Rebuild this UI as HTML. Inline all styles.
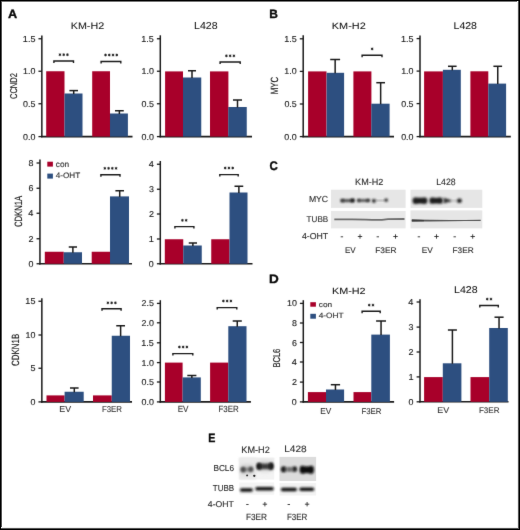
<!DOCTYPE html>
<html><head><meta charset="utf-8"><style>
html,body{margin:0;padding:0;background:#fff;}
body{width:520px;height:530px;overflow:hidden;position:relative;}
svg{position:absolute;left:0;top:0;display:block;font-family:"Liberation Sans", sans-serif;text-rendering:geometricPrecision;}
</style></head><body>
<svg width="520" height="530" viewBox="0 0 520 530">
<defs><filter id="b1" x="-20%" y="-50%" width="140%" height="200%"><feGaussianBlur stdDeviation="0.7"/></filter><filter id="b2" x="-20%" y="-50%" width="140%" height="200%"><feGaussianBlur stdDeviation="0.45"/></filter><filter id="b3" x="-10%" y="-10%" width="120%" height="120%"><feGaussianBlur stdDeviation="1.2"/></filter><filter id="b4" x="-30%" y="-80%" width="160%" height="260%"><feGaussianBlur stdDeviation="0.85"/></filter><filter id="b5" x="-30%" y="-80%" width="160%" height="260%"><feGaussianBlur stdDeviation="1.0"/></filter><filter id="b6" x="-50%" y="-50%" width="200%" height="200%"><feGaussianBlur stdDeviation="2.0"/></filter></defs>
<filter id="gb" filterUnits="userSpaceOnUse" x="0" y="0" width="520" height="530" color-interpolation-filters="sRGB"><feConvolveMatrix order="3" kernelMatrix="0.00524 0.06192 0.00524 0.06192 0.73137 0.06192 0.00524 0.06192 0.00524" edgeMode="duplicate" preserveAlpha="true"/></filter>
<g filter="url(#gb)">
<rect x="0" y="0" width="520" height="530" fill="#fff"/>
<text x="7.97" y="17.90" font-size="12.06" font-weight="bold" fill="#0a0a0a" stroke="#0a0a0a" stroke-width="0.35" textLength="9.16" lengthAdjust="spacingAndGlyphs">A</text>
<text x="269.31" y="17.80" font-size="12.06" font-weight="bold" fill="#0a0a0a" stroke="#0a0a0a" stroke-width="0.35" textLength="8.64" lengthAdjust="spacingAndGlyphs">B</text>
<text x="269.42" y="169.68" font-size="12.43" font-weight="bold" fill="#0a0a0a" stroke="#0a0a0a" stroke-width="0.35" textLength="8.31" lengthAdjust="spacingAndGlyphs">C</text>
<text x="269.11" y="282.70" font-size="12.21" font-weight="bold" fill="#0a0a0a" stroke="#0a0a0a" stroke-width="0.35" textLength="9.76" lengthAdjust="spacingAndGlyphs">D</text>
<text x="208.30" y="441.70" font-size="12.21" font-weight="bold" fill="#0a0a0a" stroke="#0a0a0a" stroke-width="0.35" textLength="7.12" lengthAdjust="spacingAndGlyphs">E</text>
<text x="70.72" y="28.80" font-size="9.60" font-weight="normal" fill="#111" stroke="#111" stroke-width="0.05" textLength="33.41" lengthAdjust="spacingAndGlyphs">KM-H2</text>
<text x="194.03" y="29.20" font-size="10.03" font-weight="normal" fill="#111" stroke="#111" stroke-width="0.05" textLength="23.54" lengthAdjust="spacingAndGlyphs">L428</text>
<text x="331.81" y="29.00" font-size="9.17" font-weight="normal" fill="#111" stroke="#111" stroke-width="0.05" textLength="33.93" lengthAdjust="spacingAndGlyphs">KM-H2</text>
<text x="453.54" y="29.40" font-size="9.89" font-weight="normal" fill="#111" stroke="#111" stroke-width="0.05" textLength="23.43" lengthAdjust="spacingAndGlyphs">L428</text>
<text x="331.91" y="293.70" font-size="9.03" font-weight="normal" fill="#111" stroke="#111" stroke-width="0.05" textLength="33.72" lengthAdjust="spacingAndGlyphs">KM-H2</text>
<text x="454.03" y="292.90" font-size="9.89" font-weight="normal" fill="#111" stroke="#111" stroke-width="0.05" textLength="23.54" lengthAdjust="spacingAndGlyphs">L428</text>
<text transform="translate(16.50,99.08) rotate(-90)" x="0" y="0" font-size="9.89" fill="#161616" stroke="#161616" stroke-width="0.15" textLength="26.06" lengthAdjust="spacingAndGlyphs">CCND2</text>
<text transform="translate(22.39,227.09) rotate(-90)" x="0" y="0" font-size="10.59" fill="#161616" stroke="#161616" stroke-width="0.15" textLength="31.31" lengthAdjust="spacingAndGlyphs">CDKN1A</text>
<text transform="translate(19.30,365.90) rotate(-90)" x="0" y="0" font-size="10.45" fill="#161616" stroke="#161616" stroke-width="0.15" textLength="32.11" lengthAdjust="spacingAndGlyphs">CDKN1B</text>
<text transform="translate(278.10,94.34) rotate(-90)" x="0" y="0" font-size="10.45" fill="#161616" stroke="#161616" stroke-width="0.15" textLength="17.44" lengthAdjust="spacingAndGlyphs">MYC</text>
<text transform="translate(279.60,367.62) rotate(-90)" x="0" y="0" font-size="10.03" fill="#161616" stroke="#161616" stroke-width="0.15" textLength="18.95" lengthAdjust="spacingAndGlyphs">BCL6</text>
<line x1="41.85" y1="35.50" x2="41.85" y2="137.35" stroke="#1a1a1a" stroke-width="1.5"/>
<line x1="41.10" y1="136.60" x2="132.50" y2="136.60" stroke="#1a1a1a" stroke-width="1.6"/>
<line x1="38.45" y1="136.60" x2="41.85" y2="136.60" stroke="#1a1a1a" stroke-width="1.3"/>
<text x="23.02" y="139.62" font-size="8.47" font-weight="normal" fill="#202020" stroke="#202020" stroke-width="0.12" textLength="12.37" lengthAdjust="spacingAndGlyphs">0.0</text>
<line x1="38.45" y1="103.75" x2="41.85" y2="103.75" stroke="#1a1a1a" stroke-width="1.3"/>
<text x="23.06" y="106.77" font-size="8.47" font-weight="normal" fill="#202020" stroke="#202020" stroke-width="0.12" textLength="12.37" lengthAdjust="spacingAndGlyphs">0.5</text>
<line x1="38.45" y1="71.25" x2="41.85" y2="71.25" stroke="#1a1a1a" stroke-width="1.3"/>
<text x="23.02" y="74.27" font-size="8.47" font-weight="normal" fill="#202020" stroke="#202020" stroke-width="0.12" textLength="12.37" lengthAdjust="spacingAndGlyphs">1.0</text>
<line x1="38.45" y1="38.75" x2="41.85" y2="38.75" stroke="#1a1a1a" stroke-width="1.3"/>
<text x="22.88" y="41.76" font-size="8.60" font-weight="normal" fill="#202020" stroke="#202020" stroke-width="0.12" textLength="12.55" lengthAdjust="spacingAndGlyphs">1.5</text>
<rect x="46.20" y="71.25" width="18.30" height="65.35" fill="#a8002a"/>
<rect x="64.50" y="93.50" width="18.00" height="43.10" fill="#2d4f80"/>
<line x1="73.70" y1="90.60" x2="73.70" y2="94.00" stroke="#1a1a1a" stroke-width="1.5"/>
<line x1="69.40" y1="90.60" x2="78.00" y2="90.60" stroke="#1a1a1a" stroke-width="1.5"/>
<rect x="92.20" y="71.25" width="17.80" height="65.35" fill="#a8002a"/>
<rect x="110.00" y="113.50" width="17.90" height="23.10" fill="#2d4f80"/>
<line x1="119.38" y1="110.75" x2="119.38" y2="114.00" stroke="#1a1a1a" stroke-width="1.5"/>
<line x1="115.00" y1="110.75" x2="123.75" y2="110.75" stroke="#1a1a1a" stroke-width="1.5"/>
<path d="M53.90,63.00 L53.90,61.00 L73.50,61.00 L73.50,63.00" fill="none" stroke="#1a1a1a" stroke-width="1.4"/>
<circle cx="59.95" cy="54.70" r="0.9" fill="#222"/>
<path d="M59.95,53.25 L59.95,56.15 M58.70,53.98 L61.20,55.42 M58.70,55.42 L61.20,53.98" stroke="#222" stroke-width="0.7"/>
<circle cx="63.70" cy="54.70" r="0.9" fill="#222"/>
<path d="M63.70,53.25 L63.70,56.15 M62.45,53.98 L64.95,55.42 M62.45,55.42 L64.95,53.98" stroke="#222" stroke-width="0.7"/>
<circle cx="67.45" cy="54.70" r="0.9" fill="#222"/>
<path d="M67.45,53.25 L67.45,56.15 M66.20,53.98 L68.70,55.42 M66.20,55.42 L68.70,53.98" stroke="#222" stroke-width="0.7"/>
<path d="M101.10,63.50 L101.10,61.50 L120.80,61.50 L120.80,63.50" fill="none" stroke="#1a1a1a" stroke-width="1.4"/>
<circle cx="105.53" cy="55.00" r="0.9" fill="#222"/>
<path d="M105.53,53.55 L105.53,56.45 M104.28,54.28 L106.78,55.72 M104.28,55.72 L106.78,54.28" stroke="#222" stroke-width="0.7"/>
<circle cx="109.28" cy="55.00" r="0.9" fill="#222"/>
<path d="M109.28,53.55 L109.28,56.45 M108.03,54.28 L110.53,55.72 M108.03,55.72 L110.53,54.28" stroke="#222" stroke-width="0.7"/>
<circle cx="113.03" cy="55.00" r="0.9" fill="#222"/>
<path d="M113.03,53.55 L113.03,56.45 M111.78,54.28 L114.28,55.72 M111.78,55.72 L114.28,54.28" stroke="#222" stroke-width="0.7"/>
<circle cx="116.78" cy="55.00" r="0.9" fill="#222"/>
<path d="M116.78,53.55 L116.78,56.45 M115.53,54.28 L118.03,55.72 M115.53,55.72 L118.03,54.28" stroke="#222" stroke-width="0.7"/>
<line x1="160.30" y1="35.30" x2="160.30" y2="137.35" stroke="#1a1a1a" stroke-width="1.5"/>
<line x1="159.55" y1="136.60" x2="252.00" y2="136.60" stroke="#1a1a1a" stroke-width="1.6"/>
<line x1="156.90" y1="136.60" x2="160.30" y2="136.60" stroke="#1a1a1a" stroke-width="1.3"/>
<text x="141.47" y="139.62" font-size="8.47" font-weight="normal" fill="#202020" stroke="#202020" stroke-width="0.12" textLength="12.37" lengthAdjust="spacingAndGlyphs">0.0</text>
<line x1="156.90" y1="103.75" x2="160.30" y2="103.75" stroke="#1a1a1a" stroke-width="1.3"/>
<text x="141.51" y="106.77" font-size="8.47" font-weight="normal" fill="#202020" stroke="#202020" stroke-width="0.12" textLength="12.37" lengthAdjust="spacingAndGlyphs">0.5</text>
<line x1="156.90" y1="71.25" x2="160.30" y2="71.25" stroke="#1a1a1a" stroke-width="1.3"/>
<text x="141.47" y="74.27" font-size="8.47" font-weight="normal" fill="#202020" stroke="#202020" stroke-width="0.12" textLength="12.37" lengthAdjust="spacingAndGlyphs">1.0</text>
<line x1="156.90" y1="38.75" x2="160.30" y2="38.75" stroke="#1a1a1a" stroke-width="1.3"/>
<text x="141.33" y="41.76" font-size="8.60" font-weight="normal" fill="#202020" stroke="#202020" stroke-width="0.12" textLength="12.55" lengthAdjust="spacingAndGlyphs">1.5</text>
<rect x="165.10" y="71.40" width="17.90" height="65.20" fill="#a8002a"/>
<rect x="183.00" y="77.50" width="18.25" height="59.10" fill="#2d4f80"/>
<line x1="192.00" y1="70.75" x2="192.00" y2="78.00" stroke="#1a1a1a" stroke-width="1.5"/>
<line x1="188.00" y1="70.75" x2="196.00" y2="70.75" stroke="#1a1a1a" stroke-width="1.5"/>
<rect x="210.00" y="71.40" width="18.40" height="65.20" fill="#a8002a"/>
<rect x="228.25" y="107.00" width="18.50" height="29.60" fill="#2d4f80"/>
<line x1="237.50" y1="100.00" x2="237.50" y2="107.50" stroke="#1a1a1a" stroke-width="1.5"/>
<line x1="233.00" y1="100.00" x2="242.00" y2="100.00" stroke="#1a1a1a" stroke-width="1.5"/>
<path d="M220.10,64.00 L220.10,62.00 L240.20,62.00 L240.20,64.00" fill="none" stroke="#1a1a1a" stroke-width="1.4"/>
<circle cx="226.40" cy="55.80" r="0.9" fill="#222"/>
<path d="M226.40,54.35 L226.40,57.25 M225.15,55.08 L227.65,56.52 M225.15,56.52 L227.65,55.08" stroke="#222" stroke-width="0.7"/>
<circle cx="230.15" cy="55.80" r="0.9" fill="#222"/>
<path d="M230.15,54.35 L230.15,57.25 M228.90,55.08 L231.40,56.52 M228.90,56.52 L231.40,55.08" stroke="#222" stroke-width="0.7"/>
<circle cx="233.90" cy="55.80" r="0.9" fill="#222"/>
<path d="M233.90,54.35 L233.90,57.25 M232.65,55.08 L235.15,56.52 M232.65,56.52 L235.15,55.08" stroke="#222" stroke-width="0.7"/>
<line x1="303.20" y1="35.20" x2="303.20" y2="137.35" stroke="#1a1a1a" stroke-width="1.5"/>
<line x1="302.45" y1="136.60" x2="394.00" y2="136.60" stroke="#1a1a1a" stroke-width="1.6"/>
<line x1="299.80" y1="136.60" x2="303.20" y2="136.60" stroke="#1a1a1a" stroke-width="1.3"/>
<text x="284.37" y="139.62" font-size="8.47" font-weight="normal" fill="#202020" stroke="#202020" stroke-width="0.12" textLength="12.37" lengthAdjust="spacingAndGlyphs">0.0</text>
<line x1="299.80" y1="104.00" x2="303.20" y2="104.00" stroke="#1a1a1a" stroke-width="1.3"/>
<text x="284.41" y="107.02" font-size="8.47" font-weight="normal" fill="#202020" stroke="#202020" stroke-width="0.12" textLength="12.37" lengthAdjust="spacingAndGlyphs">0.5</text>
<line x1="299.80" y1="71.40" x2="303.20" y2="71.40" stroke="#1a1a1a" stroke-width="1.3"/>
<text x="284.37" y="74.42" font-size="8.47" font-weight="normal" fill="#202020" stroke="#202020" stroke-width="0.12" textLength="12.37" lengthAdjust="spacingAndGlyphs">1.0</text>
<line x1="299.80" y1="38.80" x2="303.20" y2="38.80" stroke="#1a1a1a" stroke-width="1.3"/>
<text x="284.23" y="41.81" font-size="8.60" font-weight="normal" fill="#202020" stroke="#202020" stroke-width="0.12" textLength="12.55" lengthAdjust="spacingAndGlyphs">1.5</text>
<rect x="308.10" y="71.40" width="18.40" height="65.20" fill="#a8002a"/>
<rect x="326.60" y="72.80" width="17.50" height="63.80" fill="#2d4f80"/>
<line x1="335.15" y1="59.50" x2="335.15" y2="73.30" stroke="#1a1a1a" stroke-width="1.5"/>
<line x1="330.20" y1="59.50" x2="340.10" y2="59.50" stroke="#1a1a1a" stroke-width="1.5"/>
<rect x="353.40" y="71.40" width="18.00" height="65.20" fill="#a8002a"/>
<rect x="371.30" y="103.70" width="18.30" height="32.90" fill="#2d4f80"/>
<line x1="380.65" y1="82.70" x2="380.65" y2="104.20" stroke="#1a1a1a" stroke-width="1.5"/>
<line x1="376.30" y1="82.70" x2="385.00" y2="82.70" stroke="#1a1a1a" stroke-width="1.5"/>
<path d="M362.10,57.30 L362.10,55.30 L382.00,55.30 L382.00,57.30" fill="none" stroke="#1a1a1a" stroke-width="1.4"/>
<circle cx="372.15" cy="48.90" r="0.9" fill="#222"/>
<path d="M372.15,47.45 L372.15,50.35 M370.90,48.18 L373.40,49.62 M370.90,49.62 L373.40,48.18" stroke="#222" stroke-width="0.7"/>
<line x1="420.00" y1="35.50" x2="420.00" y2="137.35" stroke="#1a1a1a" stroke-width="1.5"/>
<line x1="419.25" y1="136.60" x2="510.80" y2="136.60" stroke="#1a1a1a" stroke-width="1.6"/>
<line x1="416.60" y1="136.60" x2="420.00" y2="136.60" stroke="#1a1a1a" stroke-width="1.3"/>
<text x="401.17" y="139.62" font-size="8.47" font-weight="normal" fill="#202020" stroke="#202020" stroke-width="0.12" textLength="12.37" lengthAdjust="spacingAndGlyphs">0.0</text>
<line x1="416.60" y1="103.60" x2="420.00" y2="103.60" stroke="#1a1a1a" stroke-width="1.3"/>
<text x="401.21" y="106.62" font-size="8.47" font-weight="normal" fill="#202020" stroke="#202020" stroke-width="0.12" textLength="12.37" lengthAdjust="spacingAndGlyphs">0.5</text>
<line x1="416.60" y1="71.10" x2="420.00" y2="71.10" stroke="#1a1a1a" stroke-width="1.3"/>
<text x="401.17" y="74.12" font-size="8.47" font-weight="normal" fill="#202020" stroke="#202020" stroke-width="0.12" textLength="12.37" lengthAdjust="spacingAndGlyphs">1.0</text>
<line x1="416.60" y1="38.60" x2="420.00" y2="38.60" stroke="#1a1a1a" stroke-width="1.3"/>
<text x="401.03" y="41.61" font-size="8.60" font-weight="normal" fill="#202020" stroke="#202020" stroke-width="0.12" textLength="12.55" lengthAdjust="spacingAndGlyphs">1.5</text>
<rect x="424.10" y="71.40" width="18.80" height="65.20" fill="#a8002a"/>
<rect x="442.90" y="69.80" width="17.90" height="66.80" fill="#2d4f80"/>
<line x1="452.30" y1="66.30" x2="452.30" y2="70.30" stroke="#1a1a1a" stroke-width="1.5"/>
<line x1="448.00" y1="66.30" x2="456.60" y2="66.30" stroke="#1a1a1a" stroke-width="1.5"/>
<rect x="470.40" y="71.30" width="17.90" height="65.30" fill="#a8002a"/>
<rect x="488.30" y="83.60" width="17.80" height="53.00" fill="#2d4f80"/>
<line x1="497.75" y1="66.30" x2="497.75" y2="84.10" stroke="#1a1a1a" stroke-width="1.5"/>
<line x1="493.40" y1="66.30" x2="502.10" y2="66.30" stroke="#1a1a1a" stroke-width="1.5"/>
<line x1="39.95" y1="159.60" x2="39.95" y2="264.50" stroke="#1a1a1a" stroke-width="1.5"/>
<line x1="39.20" y1="263.75" x2="132.00" y2="263.75" stroke="#1a1a1a" stroke-width="1.6"/>
<line x1="36.55" y1="263.75" x2="39.95" y2="263.75" stroke="#1a1a1a" stroke-width="1.3"/>
<text x="28.54" y="266.77" font-size="8.47" font-weight="normal" fill="#202020" stroke="#202020" stroke-width="0.12" textLength="4.95" lengthAdjust="spacingAndGlyphs">0</text>
<line x1="36.55" y1="238.75" x2="39.95" y2="238.75" stroke="#1a1a1a" stroke-width="1.3"/>
<text x="28.58" y="241.85" font-size="8.60" font-weight="normal" fill="#202020" stroke="#202020" stroke-width="0.12" textLength="5.02" lengthAdjust="spacingAndGlyphs">2</text>
<line x1="36.55" y1="213.25" x2="39.95" y2="213.25" stroke="#1a1a1a" stroke-width="1.3"/>
<text x="28.33" y="216.35" font-size="8.72" font-weight="normal" fill="#202020" stroke="#202020" stroke-width="0.12" textLength="5.09" lengthAdjust="spacingAndGlyphs">4</text>
<line x1="36.55" y1="188.25" x2="39.95" y2="188.25" stroke="#1a1a1a" stroke-width="1.3"/>
<text x="28.59" y="191.27" font-size="8.47" font-weight="normal" fill="#202020" stroke="#202020" stroke-width="0.12" textLength="4.95" lengthAdjust="spacingAndGlyphs">6</text>
<line x1="36.55" y1="163.00" x2="39.95" y2="163.00" stroke="#1a1a1a" stroke-width="1.3"/>
<text x="28.59" y="166.02" font-size="8.47" font-weight="normal" fill="#202020" stroke="#202020" stroke-width="0.12" textLength="4.95" lengthAdjust="spacingAndGlyphs">8</text>
<rect x="44.80" y="251.75" width="18.95" height="12.00" fill="#a8002a"/>
<rect x="63.75" y="252.25" width="18.25" height="11.50" fill="#2d4f80"/>
<line x1="72.88" y1="247.00" x2="72.88" y2="252.75" stroke="#1a1a1a" stroke-width="1.5"/>
<line x1="68.75" y1="247.00" x2="77.00" y2="247.00" stroke="#1a1a1a" stroke-width="1.5"/>
<rect x="91.70" y="251.75" width="18.30" height="12.00" fill="#a8002a"/>
<rect x="110.00" y="196.40" width="19.00" height="67.35" fill="#2d4f80"/>
<line x1="119.70" y1="190.75" x2="119.70" y2="196.90" stroke="#1a1a1a" stroke-width="1.5"/>
<line x1="115.40" y1="190.75" x2="124.00" y2="190.75" stroke="#1a1a1a" stroke-width="1.5"/>
<path d="M100.90,176.70 L100.90,174.70 L120.00,174.70 L120.00,176.70" fill="none" stroke="#1a1a1a" stroke-width="1.4"/>
<circle cx="104.83" cy="168.30" r="0.9" fill="#222"/>
<path d="M104.83,166.85 L104.83,169.75 M103.58,167.58 L106.08,169.02 M103.58,169.02 L106.08,167.58" stroke="#222" stroke-width="0.7"/>
<circle cx="108.58" cy="168.30" r="0.9" fill="#222"/>
<path d="M108.58,166.85 L108.58,169.75 M107.33,167.58 L109.83,169.02 M107.33,169.02 L109.83,167.58" stroke="#222" stroke-width="0.7"/>
<circle cx="112.33" cy="168.30" r="0.9" fill="#222"/>
<path d="M112.33,166.85 L112.33,169.75 M111.08,167.58 L113.58,169.02 M111.08,169.02 L113.58,167.58" stroke="#222" stroke-width="0.7"/>
<circle cx="116.08" cy="168.30" r="0.9" fill="#222"/>
<path d="M116.08,166.85 L116.08,169.75 M114.83,167.58 L117.33,169.02 M114.83,169.02 L117.33,167.58" stroke="#222" stroke-width="0.7"/>
<line x1="160.30" y1="161.00" x2="160.30" y2="264.50" stroke="#1a1a1a" stroke-width="1.5"/>
<line x1="159.55" y1="263.75" x2="252.50" y2="263.75" stroke="#1a1a1a" stroke-width="1.6"/>
<line x1="156.90" y1="263.75" x2="160.30" y2="263.75" stroke="#1a1a1a" stroke-width="1.3"/>
<text x="148.89" y="266.77" font-size="8.47" font-weight="normal" fill="#202020" stroke="#202020" stroke-width="0.12" textLength="4.95" lengthAdjust="spacingAndGlyphs">0</text>
<line x1="156.90" y1="239.00" x2="160.30" y2="239.00" stroke="#1a1a1a" stroke-width="1.3"/>
<text x="148.85" y="242.10" font-size="8.72" font-weight="normal" fill="#202020" stroke="#202020" stroke-width="0.12" textLength="5.09" lengthAdjust="spacingAndGlyphs">1</text>
<line x1="156.90" y1="214.00" x2="160.30" y2="214.00" stroke="#1a1a1a" stroke-width="1.3"/>
<text x="148.93" y="217.10" font-size="8.60" font-weight="normal" fill="#202020" stroke="#202020" stroke-width="0.12" textLength="5.02" lengthAdjust="spacingAndGlyphs">2</text>
<line x1="156.90" y1="189.25" x2="160.30" y2="189.25" stroke="#1a1a1a" stroke-width="1.3"/>
<text x="148.94" y="192.27" font-size="8.47" font-weight="normal" fill="#202020" stroke="#202020" stroke-width="0.12" textLength="4.95" lengthAdjust="spacingAndGlyphs">3</text>
<line x1="156.90" y1="164.25" x2="160.30" y2="164.25" stroke="#1a1a1a" stroke-width="1.3"/>
<text x="148.68" y="167.35" font-size="8.72" font-weight="normal" fill="#202020" stroke="#202020" stroke-width="0.12" textLength="5.09" lengthAdjust="spacingAndGlyphs">4</text>
<rect x="164.80" y="239.25" width="18.45" height="24.50" fill="#a8002a"/>
<rect x="183.25" y="245.50" width="18.50" height="18.25" fill="#2d4f80"/>
<line x1="192.88" y1="243.00" x2="192.88" y2="246.00" stroke="#1a1a1a" stroke-width="1.5"/>
<line x1="188.75" y1="243.00" x2="197.00" y2="243.00" stroke="#1a1a1a" stroke-width="1.5"/>
<rect x="211.25" y="239.25" width="18.25" height="24.50" fill="#a8002a"/>
<rect x="229.50" y="192.50" width="18.00" height="71.25" fill="#2d4f80"/>
<line x1="238.88" y1="186.25" x2="238.88" y2="193.00" stroke="#1a1a1a" stroke-width="1.5"/>
<line x1="234.50" y1="186.25" x2="243.25" y2="186.25" stroke="#1a1a1a" stroke-width="1.5"/>
<path d="M174.90,228.60 L174.90,226.60 L193.90,226.60 L193.90,228.60" fill="none" stroke="#1a1a1a" stroke-width="1.4"/>
<circle cx="182.43" cy="220.30" r="0.9" fill="#222"/>
<path d="M182.43,218.85 L182.43,221.75 M181.18,219.58 L183.68,221.02 M181.18,221.02 L183.68,219.58" stroke="#222" stroke-width="0.7"/>
<circle cx="186.18" cy="220.30" r="0.9" fill="#222"/>
<path d="M186.18,218.85 L186.18,221.75 M184.93,219.58 L187.43,221.02 M184.93,221.02 L187.43,219.58" stroke="#222" stroke-width="0.7"/>
<path d="M219.80,176.60 L219.80,174.60 L238.20,174.60 L238.20,176.60" fill="none" stroke="#1a1a1a" stroke-width="1.4"/>
<circle cx="225.20" cy="168.00" r="0.9" fill="#222"/>
<path d="M225.20,166.55 L225.20,169.45 M223.95,167.28 L226.45,168.72 M223.95,168.72 L226.45,167.28" stroke="#222" stroke-width="0.7"/>
<circle cx="228.95" cy="168.00" r="0.9" fill="#222"/>
<path d="M228.95,166.55 L228.95,169.45 M227.70,167.28 L230.20,168.72 M227.70,168.72 L230.20,167.28" stroke="#222" stroke-width="0.7"/>
<circle cx="232.70" cy="168.00" r="0.9" fill="#222"/>
<path d="M232.70,166.55 L232.70,169.45 M231.45,167.28 L233.95,168.72 M231.45,168.72 L233.95,167.28" stroke="#222" stroke-width="0.7"/>
<line x1="41.85" y1="298.20" x2="41.85" y2="402.65" stroke="#1a1a1a" stroke-width="1.5"/>
<line x1="41.10" y1="401.90" x2="132.00" y2="401.90" stroke="#1a1a1a" stroke-width="1.6"/>
<line x1="38.45" y1="401.90" x2="41.85" y2="401.90" stroke="#1a1a1a" stroke-width="1.3"/>
<text x="30.44" y="404.92" font-size="8.47" font-weight="normal" fill="#202020" stroke="#202020" stroke-width="0.12" textLength="4.95" lengthAdjust="spacingAndGlyphs">0</text>
<line x1="38.45" y1="368.25" x2="41.85" y2="368.25" stroke="#1a1a1a" stroke-width="1.3"/>
<text x="30.41" y="371.26" font-size="8.60" font-weight="normal" fill="#202020" stroke="#202020" stroke-width="0.12" textLength="5.02" lengthAdjust="spacingAndGlyphs">5</text>
<line x1="38.45" y1="335.00" x2="41.85" y2="335.00" stroke="#1a1a1a" stroke-width="1.3"/>
<text x="25.49" y="338.02" font-size="8.47" font-weight="normal" fill="#202020" stroke="#202020" stroke-width="0.12" textLength="9.90" lengthAdjust="spacingAndGlyphs">10</text>
<line x1="38.45" y1="301.25" x2="41.85" y2="301.25" stroke="#1a1a1a" stroke-width="1.3"/>
<text x="25.39" y="304.26" font-size="8.60" font-weight="normal" fill="#202020" stroke="#202020" stroke-width="0.12" textLength="10.04" lengthAdjust="spacingAndGlyphs">15</text>
<rect x="46.50" y="395.40" width="18.10" height="6.50" fill="#a8002a"/>
<rect x="64.60" y="391.75" width="19.10" height="10.15" fill="#2d4f80"/>
<line x1="74.30" y1="388.00" x2="74.30" y2="392.25" stroke="#1a1a1a" stroke-width="1.5"/>
<line x1="70.00" y1="388.00" x2="78.60" y2="388.00" stroke="#1a1a1a" stroke-width="1.5"/>
<rect x="93.00" y="395.40" width="18.75" height="6.50" fill="#a8002a"/>
<rect x="111.75" y="335.75" width="18.25" height="66.15" fill="#2d4f80"/>
<line x1="120.62" y1="325.75" x2="120.62" y2="336.25" stroke="#1a1a1a" stroke-width="1.5"/>
<line x1="116.25" y1="325.75" x2="125.00" y2="325.75" stroke="#1a1a1a" stroke-width="1.5"/>
<path d="M102.00,310.80 L102.00,308.80 L121.10,308.80 L121.10,310.80" fill="none" stroke="#1a1a1a" stroke-width="1.4"/>
<circle cx="107.90" cy="302.80" r="0.9" fill="#222"/>
<path d="M107.90,301.35 L107.90,304.25 M106.65,302.08 L109.15,303.52 M106.65,303.52 L109.15,302.08" stroke="#222" stroke-width="0.7"/>
<circle cx="111.65" cy="302.80" r="0.9" fill="#222"/>
<path d="M111.65,301.35 L111.65,304.25 M110.40,302.08 L112.90,303.52 M110.40,303.52 L112.90,302.08" stroke="#222" stroke-width="0.7"/>
<circle cx="115.40" cy="302.80" r="0.9" fill="#222"/>
<path d="M115.40,301.35 L115.40,304.25 M114.15,302.08 L116.65,303.52 M114.15,303.52 L116.65,302.08" stroke="#222" stroke-width="0.7"/>
<line x1="160.30" y1="300.20" x2="160.30" y2="402.65" stroke="#1a1a1a" stroke-width="1.5"/>
<line x1="159.55" y1="401.90" x2="250.90" y2="401.90" stroke="#1a1a1a" stroke-width="1.6"/>
<line x1="156.90" y1="401.90" x2="160.30" y2="401.90" stroke="#1a1a1a" stroke-width="1.3"/>
<text x="141.47" y="404.92" font-size="8.47" font-weight="normal" fill="#202020" stroke="#202020" stroke-width="0.12" textLength="12.37" lengthAdjust="spacingAndGlyphs">0.0</text>
<line x1="156.90" y1="382.00" x2="160.30" y2="382.00" stroke="#1a1a1a" stroke-width="1.3"/>
<text x="141.51" y="385.02" font-size="8.47" font-weight="normal" fill="#202020" stroke="#202020" stroke-width="0.12" textLength="12.37" lengthAdjust="spacingAndGlyphs">0.5</text>
<line x1="156.90" y1="362.60" x2="160.30" y2="362.60" stroke="#1a1a1a" stroke-width="1.3"/>
<text x="141.47" y="365.62" font-size="8.47" font-weight="normal" fill="#202020" stroke="#202020" stroke-width="0.12" textLength="12.37" lengthAdjust="spacingAndGlyphs">1.0</text>
<line x1="156.90" y1="342.80" x2="160.30" y2="342.80" stroke="#1a1a1a" stroke-width="1.3"/>
<text x="141.33" y="345.81" font-size="8.60" font-weight="normal" fill="#202020" stroke="#202020" stroke-width="0.12" textLength="12.55" lengthAdjust="spacingAndGlyphs">1.5</text>
<line x1="156.90" y1="322.80" x2="160.30" y2="322.80" stroke="#1a1a1a" stroke-width="1.3"/>
<text x="141.47" y="325.82" font-size="8.47" font-weight="normal" fill="#202020" stroke="#202020" stroke-width="0.12" textLength="12.37" lengthAdjust="spacingAndGlyphs">2.0</text>
<line x1="156.90" y1="303.40" x2="160.30" y2="303.40" stroke="#1a1a1a" stroke-width="1.3"/>
<text x="141.51" y="306.42" font-size="8.47" font-weight="normal" fill="#202020" stroke="#202020" stroke-width="0.12" textLength="12.37" lengthAdjust="spacingAndGlyphs">2.5</text>
<rect x="164.90" y="362.60" width="17.70" height="39.30" fill="#a8002a"/>
<rect x="182.60" y="377.40" width="18.20" height="24.50" fill="#2d4f80"/>
<line x1="191.85" y1="375.50" x2="191.85" y2="377.90" stroke="#1a1a1a" stroke-width="1.5"/>
<line x1="187.30" y1="375.50" x2="196.40" y2="375.50" stroke="#1a1a1a" stroke-width="1.5"/>
<rect x="210.10" y="362.60" width="18.20" height="39.30" fill="#a8002a"/>
<rect x="228.30" y="326.20" width="18.20" height="75.70" fill="#2d4f80"/>
<line x1="237.25" y1="321.00" x2="237.25" y2="326.70" stroke="#1a1a1a" stroke-width="1.5"/>
<line x1="232.70" y1="321.00" x2="241.80" y2="321.00" stroke="#1a1a1a" stroke-width="1.5"/>
<path d="M172.90,355.60 L172.90,353.60 L192.80,353.60 L192.80,355.60" fill="none" stroke="#1a1a1a" stroke-width="1.4"/>
<circle cx="179.40" cy="347.00" r="0.9" fill="#222"/>
<path d="M179.40,345.55 L179.40,348.45 M178.15,346.28 L180.65,347.72 M178.15,347.72 L180.65,346.28" stroke="#222" stroke-width="0.7"/>
<circle cx="183.15" cy="347.00" r="0.9" fill="#222"/>
<path d="M183.15,345.55 L183.15,348.45 M181.90,346.28 L184.40,347.72 M181.90,347.72 L184.40,346.28" stroke="#222" stroke-width="0.7"/>
<circle cx="186.90" cy="347.00" r="0.9" fill="#222"/>
<path d="M186.90,345.55 L186.90,348.45 M185.65,346.28 L188.15,347.72 M185.65,347.72 L188.15,346.28" stroke="#222" stroke-width="0.7"/>
<path d="M217.20,309.60 L217.20,307.60 L236.80,307.60 L236.80,309.60" fill="none" stroke="#1a1a1a" stroke-width="1.4"/>
<circle cx="223.40" cy="301.00" r="0.9" fill="#222"/>
<path d="M223.40,299.55 L223.40,302.45 M222.15,300.28 L224.65,301.72 M222.15,301.72 L224.65,300.28" stroke="#222" stroke-width="0.7"/>
<circle cx="227.15" cy="301.00" r="0.9" fill="#222"/>
<path d="M227.15,299.55 L227.15,302.45 M225.90,300.28 L228.40,301.72 M225.90,301.72 L228.40,300.28" stroke="#222" stroke-width="0.7"/>
<circle cx="230.90" cy="301.00" r="0.9" fill="#222"/>
<path d="M230.90,299.55 L230.90,302.45 M229.65,300.28 L232.15,301.72 M229.65,301.72 L232.15,300.28" stroke="#222" stroke-width="0.7"/>
<line x1="303.30" y1="300.20" x2="303.30" y2="402.65" stroke="#1a1a1a" stroke-width="1.5"/>
<line x1="302.55" y1="401.90" x2="394.10" y2="401.90" stroke="#1a1a1a" stroke-width="1.6"/>
<line x1="299.90" y1="401.90" x2="303.30" y2="401.90" stroke="#1a1a1a" stroke-width="1.3"/>
<text x="291.89" y="404.92" font-size="8.47" font-weight="normal" fill="#202020" stroke="#202020" stroke-width="0.12" textLength="4.95" lengthAdjust="spacingAndGlyphs">0</text>
<line x1="299.90" y1="382.10" x2="303.30" y2="382.10" stroke="#1a1a1a" stroke-width="1.3"/>
<text x="291.93" y="385.20" font-size="8.60" font-weight="normal" fill="#202020" stroke="#202020" stroke-width="0.12" textLength="5.02" lengthAdjust="spacingAndGlyphs">2</text>
<line x1="299.90" y1="362.00" x2="303.30" y2="362.00" stroke="#1a1a1a" stroke-width="1.3"/>
<text x="291.68" y="365.10" font-size="8.72" font-weight="normal" fill="#202020" stroke="#202020" stroke-width="0.12" textLength="5.09" lengthAdjust="spacingAndGlyphs">4</text>
<line x1="299.90" y1="342.50" x2="303.30" y2="342.50" stroke="#1a1a1a" stroke-width="1.3"/>
<text x="291.94" y="345.52" font-size="8.47" font-weight="normal" fill="#202020" stroke="#202020" stroke-width="0.12" textLength="4.95" lengthAdjust="spacingAndGlyphs">6</text>
<line x1="299.90" y1="323.00" x2="303.30" y2="323.00" stroke="#1a1a1a" stroke-width="1.3"/>
<text x="291.94" y="326.02" font-size="8.47" font-weight="normal" fill="#202020" stroke="#202020" stroke-width="0.12" textLength="4.95" lengthAdjust="spacingAndGlyphs">8</text>
<line x1="299.90" y1="303.40" x2="303.30" y2="303.40" stroke="#1a1a1a" stroke-width="1.3"/>
<text x="286.94" y="306.42" font-size="8.47" font-weight="normal" fill="#202020" stroke="#202020" stroke-width="0.12" textLength="9.90" lengthAdjust="spacingAndGlyphs">10</text>
<rect x="307.90" y="392.10" width="18.10" height="9.80" fill="#a8002a"/>
<rect x="326.00" y="389.50" width="18.10" height="12.40" fill="#2d4f80"/>
<line x1="335.45" y1="384.70" x2="335.45" y2="390.00" stroke="#1a1a1a" stroke-width="1.5"/>
<line x1="330.80" y1="384.70" x2="340.10" y2="384.70" stroke="#1a1a1a" stroke-width="1.5"/>
<rect x="353.50" y="392.10" width="17.80" height="9.80" fill="#a8002a"/>
<rect x="371.30" y="334.60" width="18.60" height="67.30" fill="#2d4f80"/>
<line x1="381.05" y1="321.00" x2="381.05" y2="335.10" stroke="#1a1a1a" stroke-width="1.5"/>
<line x1="376.10" y1="321.00" x2="386.00" y2="321.00" stroke="#1a1a1a" stroke-width="1.5"/>
<path d="M362.10,313.30 L362.10,311.30 L380.20,311.30 L380.20,313.30" fill="none" stroke="#1a1a1a" stroke-width="1.4"/>
<circle cx="369.23" cy="305.10" r="0.9" fill="#222"/>
<path d="M369.23,303.65 L369.23,306.55 M367.98,304.38 L370.48,305.82 M367.98,305.82 L370.48,304.38" stroke="#222" stroke-width="0.7"/>
<circle cx="372.98" cy="305.10" r="0.9" fill="#222"/>
<path d="M372.98,303.65 L372.98,306.55 M371.73,304.38 L374.23,305.82 M371.73,305.82 L374.23,304.38" stroke="#222" stroke-width="0.7"/>
<line x1="420.00" y1="299.20" x2="420.00" y2="402.55" stroke="#1a1a1a" stroke-width="1.5"/>
<line x1="419.25" y1="401.80" x2="508.50" y2="401.80" stroke="#1a1a1a" stroke-width="1.6"/>
<line x1="416.60" y1="401.80" x2="420.00" y2="401.80" stroke="#1a1a1a" stroke-width="1.3"/>
<text x="408.59" y="404.82" font-size="8.47" font-weight="normal" fill="#202020" stroke="#202020" stroke-width="0.12" textLength="4.95" lengthAdjust="spacingAndGlyphs">0</text>
<line x1="416.60" y1="376.90" x2="420.00" y2="376.90" stroke="#1a1a1a" stroke-width="1.3"/>
<text x="408.55" y="380.00" font-size="8.72" font-weight="normal" fill="#202020" stroke="#202020" stroke-width="0.12" textLength="5.09" lengthAdjust="spacingAndGlyphs">1</text>
<line x1="416.60" y1="352.00" x2="420.00" y2="352.00" stroke="#1a1a1a" stroke-width="1.3"/>
<text x="408.63" y="355.10" font-size="8.60" font-weight="normal" fill="#202020" stroke="#202020" stroke-width="0.12" textLength="5.02" lengthAdjust="spacingAndGlyphs">2</text>
<line x1="416.60" y1="327.10" x2="420.00" y2="327.10" stroke="#1a1a1a" stroke-width="1.3"/>
<text x="408.64" y="330.12" font-size="8.47" font-weight="normal" fill="#202020" stroke="#202020" stroke-width="0.12" textLength="4.95" lengthAdjust="spacingAndGlyphs">3</text>
<line x1="416.60" y1="302.00" x2="420.00" y2="302.00" stroke="#1a1a1a" stroke-width="1.3"/>
<text x="408.38" y="305.10" font-size="8.72" font-weight="normal" fill="#202020" stroke="#202020" stroke-width="0.12" textLength="5.09" lengthAdjust="spacingAndGlyphs">4</text>
<rect x="424.10" y="377.10" width="18.70" height="24.70" fill="#a8002a"/>
<rect x="442.80" y="363.30" width="18.60" height="38.50" fill="#2d4f80"/>
<line x1="452.40" y1="330.00" x2="452.40" y2="363.80" stroke="#1a1a1a" stroke-width="1.5"/>
<line x1="447.90" y1="330.00" x2="456.90" y2="330.00" stroke="#1a1a1a" stroke-width="1.5"/>
<rect x="470.50" y="377.10" width="18.70" height="24.70" fill="#a8002a"/>
<rect x="489.20" y="328.00" width="18.60" height="73.80" fill="#2d4f80"/>
<line x1="499.05" y1="317.20" x2="499.05" y2="328.50" stroke="#1a1a1a" stroke-width="1.5"/>
<line x1="494.50" y1="317.20" x2="503.60" y2="317.20" stroke="#1a1a1a" stroke-width="1.5"/>
<path d="M479.80,307.50 L479.80,305.50 L498.30,305.50 L498.30,307.50" fill="none" stroke="#1a1a1a" stroke-width="1.4"/>
<circle cx="487.23" cy="299.10" r="0.9" fill="#222"/>
<path d="M487.23,297.65 L487.23,300.55 M485.98,298.38 L488.48,299.82 M485.98,299.82 L488.48,298.38" stroke="#222" stroke-width="0.7"/>
<circle cx="490.98" cy="299.10" r="0.9" fill="#222"/>
<path d="M490.98,297.65 L490.98,300.55 M489.73,298.38 L492.23,299.82 M489.73,299.82 L492.23,298.38" stroke="#222" stroke-width="0.7"/>
<text x="59.37" y="412.40" font-size="8.79" font-weight="normal" fill="#333" stroke="#333" stroke-width="0.1" textLength="11.81" lengthAdjust="spacingAndGlyphs">EV</text>
<text x="101.96" y="412.31" font-size="8.55" font-weight="normal" fill="#333" stroke="#333" stroke-width="0.1" textLength="20.06" lengthAdjust="spacingAndGlyphs">F3ER</text>
<text x="177.63" y="412.30" font-size="9.16" font-weight="normal" fill="#333" stroke="#333" stroke-width="0.1" textLength="10.90" lengthAdjust="spacingAndGlyphs">EV</text>
<text x="218.45" y="412.21" font-size="8.90" font-weight="normal" fill="#333" stroke="#333" stroke-width="0.1" textLength="20.21" lengthAdjust="spacingAndGlyphs">F3ER</text>
<text x="320.32" y="414.30" font-size="8.58" font-weight="normal" fill="#333" stroke="#333" stroke-width="0.1" textLength="11.01" lengthAdjust="spacingAndGlyphs">EV</text>
<text x="361.46" y="414.22" font-size="8.33" font-weight="normal" fill="#333" stroke="#333" stroke-width="0.1" textLength="20.00" lengthAdjust="spacingAndGlyphs">F3ER</text>
<text x="437.37" y="412.90" font-size="8.43" font-weight="normal" fill="#333" stroke="#333" stroke-width="0.1" textLength="11.86" lengthAdjust="spacingAndGlyphs">EV</text>
<text x="478.94" y="412.82" font-size="8.19" font-weight="normal" fill="#333" stroke="#333" stroke-width="0.1" textLength="20.63" lengthAdjust="spacingAndGlyphs">F3ER</text>
<text x="355.11" y="185.10" font-size="8.95" font-weight="normal" fill="#2e2e2e" stroke="#2e2e2e" stroke-width="0.12" textLength="28.24" lengthAdjust="spacingAndGlyphs">KM-H2</text>
<text x="436.28" y="185.31" font-size="9.18" font-weight="normal" fill="#2e2e2e" stroke="#2e2e2e" stroke-width="0.12" textLength="19.40" lengthAdjust="spacingAndGlyphs">L428</text>
<text x="308.89" y="201.71" font-size="8.76" font-weight="normal" fill="#2e2e2e" stroke="#2e2e2e" stroke-width="0.12" textLength="19.24" lengthAdjust="spacingAndGlyphs">MYC</text>
<text x="306.62" y="222.22" font-size="8.45" font-weight="normal" fill="#2e2e2e" stroke="#2e2e2e" stroke-width="0.12" textLength="21.61" lengthAdjust="spacingAndGlyphs">TUBB</text>
<text x="301.91" y="238.91" font-size="8.62" font-weight="normal" fill="#2e2e2e" stroke="#2e2e2e" stroke-width="0.12" textLength="26.18" lengthAdjust="spacingAndGlyphs">4-OHT</text>
<line x1="340.70" y1="236.80" x2="343.10" y2="236.80" stroke="#2e2e2e" stroke-width="0.9"/>
<line x1="376.60" y1="236.80" x2="379.00" y2="236.80" stroke="#2e2e2e" stroke-width="0.9"/>
<line x1="417.70" y1="236.80" x2="420.10" y2="236.80" stroke="#2e2e2e" stroke-width="0.9"/>
<line x1="453.50" y1="236.80" x2="455.90" y2="236.80" stroke="#2e2e2e" stroke-width="0.9"/>
<line x1="357.80" y1="236.50" x2="362.20" y2="236.50" stroke="#2e2e2e" stroke-width="0.9"/>
<line x1="360.00" y1="234.30" x2="360.00" y2="238.70" stroke="#2e2e2e" stroke-width="0.9"/>
<line x1="393.30" y1="236.50" x2="397.70" y2="236.50" stroke="#2e2e2e" stroke-width="0.9"/>
<line x1="395.50" y1="234.30" x2="395.50" y2="238.70" stroke="#2e2e2e" stroke-width="0.9"/>
<line x1="434.30" y1="236.50" x2="438.70" y2="236.50" stroke="#2e2e2e" stroke-width="0.9"/>
<line x1="436.50" y1="234.30" x2="436.50" y2="238.70" stroke="#2e2e2e" stroke-width="0.9"/>
<line x1="470.50" y1="236.50" x2="474.90" y2="236.50" stroke="#2e2e2e" stroke-width="0.9"/>
<line x1="472.70" y1="234.30" x2="472.70" y2="238.70" stroke="#2e2e2e" stroke-width="0.9"/>
<text x="344.94" y="253.20" font-size="8.43" font-weight="normal" fill="#2e2e2e" stroke="#2e2e2e" stroke-width="0.12" textLength="10.74" lengthAdjust="spacingAndGlyphs">EV</text>
<text x="375.16" y="253.12" font-size="8.19" font-weight="normal" fill="#2e2e2e" stroke="#2e2e2e" stroke-width="0.12" textLength="21.37" lengthAdjust="spacingAndGlyphs">F3ER</text>
<text x="421.82" y="252.90" font-size="8.43" font-weight="normal" fill="#2e2e2e" stroke="#2e2e2e" stroke-width="0.12" textLength="11.12" lengthAdjust="spacingAndGlyphs">EV</text>
<text x="452.52" y="252.82" font-size="8.19" font-weight="normal" fill="#2e2e2e" stroke="#2e2e2e" stroke-width="0.12" textLength="21.16" lengthAdjust="spacingAndGlyphs">F3ER</text>
<rect x="331.00" y="189.70" width="74.60" height="18.20" fill="#e6e6e6"/>
<rect x="331.00" y="211.00" width="74.60" height="17.40" fill="#e8e8e8"/>
<rect x="410.50" y="189.70" width="71.80" height="18.20" fill="#e6e6e6"/>
<rect x="410.50" y="210.40" width="71.80" height="18.00" fill="#e6e6e6"/>
<path d="M340.60,200.60 C340.60,198.90 342.60,198.90 343.60,198.90 Q347.55,199.40 351.50,198.90 C352.50,198.90 354.50,198.90 354.50,200.60 C354.50,202.30 352.50,202.30 351.50,202.30 Q347.55,201.80 343.60,202.30 C342.60,202.30 340.60,202.30 340.60,200.60 Z" fill="#444" filter="url(#b4)" opacity="1"/>
<ellipse cx="342.20" cy="200.60" rx="1.60" ry="1.60" fill="#333" filter="url(#b4)"/>
<ellipse cx="352.60" cy="200.40" rx="2.00" ry="1.90" fill="#151515" filter="url(#b4)"/>
<path d="M357.20,200.50 C357.20,199.00 359.20,199.00 360.20,199.00 Q363.50,199.40 366.80,199.00 C367.80,199.00 369.80,199.00 369.80,200.50 C369.80,202.00 367.80,202.00 366.80,202.00 Q363.50,201.60 360.20,202.00 C359.20,202.00 357.20,202.00 357.20,200.50 Z" fill="#484848" filter="url(#b4)" opacity="1"/>
<ellipse cx="358.60" cy="200.50" rx="1.40" ry="1.40" fill="#333" filter="url(#b4)"/>
<ellipse cx="368.20" cy="200.40" rx="1.50" ry="1.40" fill="#2a2a2a" filter="url(#b4)"/>
<ellipse cx="373.90" cy="200.80" rx="2.00" ry="1.90" fill="#1e1e1e" filter="url(#b4)"/>
<rect x="375.00" y="200.00" width="10.00" height="1.00" rx="0.50" fill="#888" filter="url(#b4)" opacity="1"/>
<ellipse cx="386.20" cy="200.10" rx="1.80" ry="1.70" fill="#1e1e1e" filter="url(#b4)"/>
<path d="M334.3,219.3 L352,219.4 L366,219.6 L372,219.9 L382,219.9 L388,219.2 L404.5,219.0" fill="none" stroke="#6e6e6e" stroke-width="1.8" filter="url(#b2)"/>
<path d="M412.60,200.70 C412.60,197.50 414.60,197.50 415.60,197.50 Q420.00,198.20 424.40,197.50 C425.40,197.50 427.40,197.50 427.40,200.70 C427.40,203.90 425.40,203.90 424.40,203.90 Q420.00,203.20 415.60,203.90 C414.60,203.90 412.60,203.90 412.60,200.70 Z" fill="#1c1c1c" filter="url(#b5)" opacity="1"/>
<path d="M429.40,200.70 C429.40,197.60 431.40,197.60 432.40,197.60 Q436.10,198.30 439.80,197.60 C440.80,197.60 442.80,197.60 442.80,200.70 C442.80,203.80 440.80,203.80 439.80,203.80 Q436.10,203.10 432.40,203.80 C431.40,203.80 429.40,203.80 429.40,200.70 Z" fill="#1e1e1e" filter="url(#b5)" opacity="1"/>
<path d="M443.6,197.8 L447,198.8 L451,200.0 L451,201.4 L447,202.6 L443.6,203.6 Z" fill="#333" filter="url(#b4)"/>
<rect x="449.00" y="200.30" width="9.00" height="1.00" rx="0.50" fill="#999" filter="url(#b4)" opacity="1"/>
<ellipse cx="459.40" cy="200.80" rx="2.40" ry="2.30" fill="#1c1c1c" filter="url(#b4)"/>
<path d="M411.6,219.4 L430,219.7 L450,219.9 L465,219.9 L480.7,219.7 L480.7,220.9 L465,221.1 L450,221.2 L430,221.4 L411.6,221.6 Z" fill="#555" filter="url(#b2)"/>
<path d="M412,219.6 L424,219.9 L424,221.2 L412,221.4 Z" fill="#3a3a3a" filter="url(#b2)"/>
<text x="241.35" y="452.70" font-size="9.31" font-weight="normal" fill="#2e2e2e" stroke="#2e2e2e" stroke-width="0.12" textLength="28.40" lengthAdjust="spacingAndGlyphs">KM-H2</text>
<text x="284.28" y="451.61" font-size="9.32" font-weight="normal" fill="#2e2e2e" stroke="#2e2e2e" stroke-width="0.12" textLength="22.37" lengthAdjust="spacingAndGlyphs">L428</text>
<text x="213.42" y="471.21" font-size="8.62" font-weight="normal" fill="#2e2e2e" stroke="#2e2e2e" stroke-width="0.12" textLength="20.64" lengthAdjust="spacingAndGlyphs">BCL6</text>
<text x="212.82" y="491.31" font-size="8.60" font-weight="normal" fill="#2e2e2e" stroke="#2e2e2e" stroke-width="0.12" textLength="21.30" lengthAdjust="spacingAndGlyphs">TUBB</text>
<text x="207.81" y="506.52" font-size="8.47" font-weight="normal" fill="#2e2e2e" stroke="#2e2e2e" stroke-width="0.12" textLength="26.08" lengthAdjust="spacingAndGlyphs">4-OHT</text>
<line x1="246.20" y1="504.50" x2="248.60" y2="504.50" stroke="#2e2e2e" stroke-width="0.9"/>
<line x1="287.60" y1="504.50" x2="290.00" y2="504.50" stroke="#2e2e2e" stroke-width="0.9"/>
<line x1="262.70" y1="504.20" x2="267.10" y2="504.20" stroke="#2e2e2e" stroke-width="0.9"/>
<line x1="264.90" y1="502.00" x2="264.90" y2="506.40" stroke="#2e2e2e" stroke-width="0.9"/>
<line x1="304.90" y1="504.20" x2="309.30" y2="504.20" stroke="#2e2e2e" stroke-width="0.9"/>
<line x1="307.10" y1="502.00" x2="307.10" y2="506.40" stroke="#2e2e2e" stroke-width="0.9"/>
<text x="245.92" y="520.01" font-size="8.90" font-weight="normal" fill="#2e2e2e" stroke="#2e2e2e" stroke-width="0.12" textLength="21.06" lengthAdjust="spacingAndGlyphs">F3ER</text>
<text x="286.94" y="520.01" font-size="8.90" font-weight="normal" fill="#2e2e2e" stroke="#2e2e2e" stroke-width="0.12" textLength="20.42" lengthAdjust="spacingAndGlyphs">F3ER</text>
<rect x="239.30" y="457.80" width="34.90" height="21.70" fill="#f3f3f3"/>
<rect x="239.3" y="457.8" width="17" height="21.7" fill="#e9e9e9" filter="url(#b3)"/>
<rect x="239.3" y="457.8" width="34.9" height="4" fill="#ececec" filter="url(#b3)"/>
<ellipse cx="247" cy="469.5" rx="7" ry="4.5" fill="#c8c8c8" filter="url(#b6)"/>
<rect x="241.00" y="468.10" width="12.00" height="2.80" rx="1.40" fill="#909090" filter="url(#b5)" opacity="1"/>
<ellipse cx="243.20" cy="469.60" rx="2.60" ry="2.90" fill="#4a4a4a" filter="url(#b5)"/>
<ellipse cx="250.80" cy="469.30" rx="2.40" ry="2.70" fill="#505050" filter="url(#b5)"/>
<ellipse cx="247.10" cy="475.40" rx="1.00" ry="0.90" fill="#333" filter="url(#b2)"/>
<ellipse cx="254.30" cy="475.80" rx="1.20" ry="1.10" fill="#222" filter="url(#b2)"/>
<ellipse cx="265" cy="466.5" rx="9" ry="5" fill="#cfcfcf" filter="url(#b6)"/>
<path d="M256.70,466.30 C256.70,462.90 258.70,462.90 259.70,462.90 Q265.00,464.50 270.30,462.90 C271.30,462.90 273.30,462.90 273.30,466.30 C273.30,469.70 271.30,469.70 270.30,469.70 Q265.00,468.10 259.70,469.70 C258.70,469.70 256.70,469.70 256.70,466.30 Z" fill="#3c3c3c" filter="url(#b5)" opacity="1"/>
<ellipse cx="258.80" cy="466.20" rx="2.00" ry="3.20" fill="#161616" filter="url(#b5)"/>
<ellipse cx="271.30" cy="466.00" rx="2.00" ry="3.40" fill="#161616" filter="url(#b5)"/>
<rect x="239.30" y="482.50" width="34.90" height="12.20" fill="#f4f4f4"/>
<rect x="239.90" y="488.20" width="13.00" height="3.60" rx="1.80" fill="#111" filter="url(#b4)" opacity="1"/>
<rect x="255.30" y="487.10" width="18.50" height="3.40" rx="1.70" fill="#111" filter="url(#b4)" opacity="1"/>
<rect x="279.50" y="456.90" width="36.60" height="24.10" fill="#dcdcdc"/>
<path d="M281.40,469.30 C281.40,466.50 283.40,466.50 284.40,466.50 Q289.10,467.60 293.80,466.50 C294.80,466.50 296.80,466.50 296.80,469.30 C296.80,472.10 294.80,472.10 293.80,472.10 Q289.10,471.00 284.40,472.10 C283.40,472.10 281.40,472.10 281.40,469.30 Z" fill="#808080" filter="url(#b5)" opacity="1"/>
<ellipse cx="283.40" cy="469.30" rx="2.20" ry="2.90" fill="#151515" filter="url(#b5)"/>
<ellipse cx="289.50" cy="469.50" rx="1.60" ry="1.50" fill="#666" filter="url(#b5)"/>
<ellipse cx="294.80" cy="469.00" rx="2.00" ry="2.50" fill="#1a1a1a" filter="url(#b5)"/>
<path d="M299.60,469.80 C299.60,465.70 301.60,465.70 302.60,465.70 Q306.80,467.30 311.00,465.70 C312.00,465.70 314.00,465.70 314.00,469.80 C314.00,473.90 312.00,473.90 311.00,473.90 Q306.80,472.30 302.60,473.90 C301.60,473.90 299.60,473.90 299.60,469.80 Z" fill="#0a0a0a" filter="url(#b5)" opacity="1"/>
<rect x="279.50" y="483.00" width="36.60" height="12.50" fill="#f3f3f3"/>
<rect x="280.80" y="487.85" width="16.20" height="3.50" rx="1.75" fill="#111" filter="url(#b4)" opacity="1"/>
<rect x="299.40" y="487.55" width="14.80" height="3.50" rx="1.75" fill="#111" filter="url(#b4)" opacity="1"/>
<rect x="47.30" y="161.70" width="5.60" height="4.90" fill="#a8002a"/>
<rect x="47.30" y="173.60" width="5.60" height="5.00" fill="#2d4f80"/>
<text x="55.85" y="166.82" font-size="8.21" font-weight="normal" fill="#333" stroke="#333" stroke-width="0.15" textLength="13.38" lengthAdjust="spacingAndGlyphs">con</text>
<text x="55.72" y="177.92" font-size="7.91" font-weight="normal" fill="#333" stroke="#333" stroke-width="0.15" textLength="24.46" lengthAdjust="spacingAndGlyphs">4-OHT</text>
<rect x="310.30" y="302.20" width="5.60" height="4.50" fill="#a8002a"/>
<rect x="310.30" y="313.80" width="5.60" height="4.90" fill="#2d4f80"/>
<text x="318.75" y="306.73" font-size="7.30" font-weight="normal" fill="#333" stroke="#333" stroke-width="0.15" textLength="13.38" lengthAdjust="spacingAndGlyphs">con</text>
<text x="318.72" y="318.42" font-size="7.63" font-weight="normal" fill="#333" stroke="#333" stroke-width="0.15" textLength="24.97" lengthAdjust="spacingAndGlyphs">4-OHT</text>
</g>
<rect x="0" y="1" width="520" height="1" fill="#777"/>
<rect x="1" y="0" width="1" height="530" fill="#555"/>
<rect x="517" y="0" width="1" height="530" fill="#ececec"/>
<rect x="0" y="527" width="520" height="1" fill="#ececec"/>
<rect x="518" y="0" width="1" height="530" fill="#555"/>
<rect x="0" y="528" width="520" height="1" fill="#555"/>
<rect x="0" y="0" width="520" height="1" fill="#000"/>
<rect x="0" y="0" width="1" height="530" fill="#000"/>
<rect x="519" y="0" width="1" height="530" fill="#000"/>
<rect x="0" y="529" width="520" height="1" fill="#000"/>
</svg>
</body></html>
